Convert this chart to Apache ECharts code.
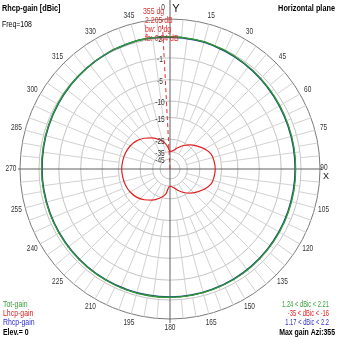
<!DOCTYPE html>
<html><head><meta charset="utf-8">
<script src="https://cdn.jsdelivr.net/npm/echarts@6/dist/echarts.min.js"></script>
<style>html,body{margin:0;padding:0;background:#fff}#c{width:339px;height:339px}</style>
</head><body><div id="c"></div>
<script>
// ---- data (dB values) ----
const azimuths = [0,10,20,30,40,50,60,70,80,90,100,110,120,130,140,150,160,170,180,190,200,210,220,230,240,250,260,270,280,290,300,310,320,330,340,350];
const totGain  = [2.19,2.12,2.00,1.85,1.68,1.52,1.40,1.31,1.26,1.24,1.25,1.28,1.33,1.39,1.45,1.51,1.56,1.60,1.63,1.64,1.64,1.63,1.62,1.61,1.60,1.60,1.61,1.63,1.67,1.73,1.81,1.90,1.99,2.08,2.15,2.21];
const rhcpGain = [2.16,2.08,1.95,1.79,1.62,1.46,1.33,1.24,1.19,1.17,1.18,1.21,1.26,1.32,1.39,1.45,1.50,1.55,1.58,1.59,1.59,1.58,1.57,1.56,1.55,1.55,1.56,1.58,1.62,1.69,1.77,1.87,1.97,2.06,2.14,2.20];
const lhcpGain = [-35,-33.5,-30.1,-26.7,-24,-21.8,-19.6,-18.0,-17.6,-17.4,-17.6,-18.0,-19.6,-21.8,-24,-26.7,-30.1,-33.5,-35,-27.7,-24.2,-21.6,-19.6,-18.0,-17.1,-16.6,-16.35,-16.2,-16.35,-16.6,-17.1,-18.0,-19.6,-21.6,-24.2,-27.7];
const ringLabels = [2,-1,-5,-10,-15,-25,-35,-45];
const angleTicks = [15,30,45,60,75,105,120,135,150,165,180,195,210,225,240,255,270,285,300,315,330,345];
const maxAzi = 355;

// ARRL-like log radial scale
const A = 0.0548;
const OUTER_DB = 4.47;
const v = db => Math.exp(A * db);
const vmax = v(OUTER_DB);

function closeLoop(vals){
  const d = azimuths.map((a,i)=>[v(vals[i]), a]);
  d.push([v(vals[0]), 360]);
  return d;
}

// spokes (grid decoration)
const spokes = [];
for (let a = 15; a < 360; a += 15) { if (a % 90) spokes.push([a, -35, OUTER_DB]); }
for (let a = 5; a < 360; a += 5) { if (a % 15) spokes.push([a, 2, OUTER_DB]); }
for (let a = 7.5; a < 360; a += 15) { spokes.push([a, -15, 2]); }

const FONT = "'Liberation Sans',Arial,sans-serif";
const SX = 0.77;
function T(text, x, y, color, size, bold, align, sx){
  return {type:'text', x:x, y:y, scaleX: sx || SX, silent:true, z:10,
    style:{text:text, fill:color, font:(bold?'bold ':'')+size+'px '+FONT, align:align||'left', verticalAlign:'middle'}};
}

const chart = echarts.init(document.getElementById('c'), null, {renderer:'canvas'});
const option = {
  animation:false,
  backgroundColor:'#fff',
  polar:{center:[170,169], radius:150},
  angleAxis:{type:'value', min:0, max:360, interval:15, startAngle:90, clockwise:true,
    axisLine:{show:true, lineStyle:{color:'#7a7a7a', width:1}},
    axisTick:{show:false}, splitLine:{show:false}, axisLabel:{show:false}},
  radiusAxis:{type:'value', min:0, max:vmax, axisLine:{show:false}, axisTick:{show:false},
    axisLabel:{show:false}, splitLine:{show:false}},
  series:[
    {type:'custom', coordinateSystem:'polar', data: ringLabels.map(d=>[d]), silent:true, z:1,
      renderItem:(p, api)=>{
        const c = api.coord([0,0]); const q = api.coord([v(api.value(0)), 0]);
        return {type:'circle', shape:{cx:c[0], cy:c[1], r:Math.abs(c[1]-q[1])},
          style:{fill:null, stroke:'#c4c4c4', lineWidth:1}};
      }},
    {type:'custom', coordinateSystem:'polar', data: spokes, silent:true, z:1,
      renderItem:(p, api)=>{
        const p1 = api.coord([v(api.value(1)), api.value(0)]);
        const p2 = api.coord([v(api.value(2)), api.value(0)]);
        return {type:'line', shape:{x1:p1[0], y1:p1[1], x2:p2[0], y2:p2[1]},
          style:{stroke:'#d2d2d2', lineWidth:1}};
      }},
    // radial scale labels
    {type:'custom', coordinateSystem:'polar', data: ringLabels.map(d=>[d]), silent:true, z:5,
      renderItem:(p, api)=>{
        const d = api.value(0); const q = api.coord([v(d), 0]);
        return {type:'text', x:q[0]-10, y:q[1]+2, scaleX:SX,
          style:{text:String(d), fill:'#333', font:'8.5px '+FONT, align:'center', verticalAlign:'middle'}};
      }},
    // angle labels
    {type:'custom', coordinateSystem:'polar', data: angleTicks.map(a=>[a]), silent:true, z:5, clip:false,
      renderItem:(p, api)=>{
        const a = api.value(0); const q = api.coord([vmax*159/150, a]);
        return {type:'text', x:q[0], y:q[1], scaleX:SX,
          style:{text:String(a), fill:'#333', font:'8.5px '+FONT, align:'center', verticalAlign:'middle'}};
      }},
    {type:'line', coordinateSystem:'polar', data:[[0,357],[vmax*1.13,357]], clip:false, symbol:'none', z:3,
      lineStyle:{color:'#e03030', width:1, type:[4,3]}},
    {name:'Rhcp-gain', type:'line', coordinateSystem:'polar', data:closeLoop(rhcpGain), smooth:true, symbol:'none', z:4,
      lineStyle:{color:'#1a3f8a', width:1.6}},
    {name:'Tot-gain', type:'line', coordinateSystem:'polar', data:closeLoop(totGain), smooth:true, symbol:'none', z:4,
      lineStyle:{color:'#2f9a2f', width:1.3}},
    {name:'Lhcp-gain', type:'line', coordinateSystem:'polar', data:closeLoop(lhcpGain), smooth:0.4, symbol:'none', z:4,
      lineStyle:{color:'#e02020', width:1.2}}
  ],
  graphic:[
    {type:'line', shape:{x1:170,y1:0,x2:170,y2:323}, style:{stroke:'#606060', lineWidth:1}, z:2, silent:true},
    {type:'line', shape:{x1:18,y1:169,x2:322,y2:169}, style:{stroke:'#606060', lineWidth:1}, z:2, silent:true},
    T('Rhcp-gain [dBic]', 2, 8, '#000', 9.5, true),
    T('Freq=108', 2, 25, '#000', 9, false),
    T('Horizontal plane', 335, 8, '#000', 9.5, true, 'right'),
    T('0', 163, 8, '#333', 8.5, false, 'center'),
    T('Y', 176, 9, '#111', 11, false, 'center', 1),
    T('90', 324, 168, '#333', 8.5, false, 'center'),
    T('X', 326, 177, '#111', 9, false, 'center', 1),
    T(maxAzi+' dg', 143, 12, '#e03030', 9, false),
    T('2.205 dB', 145, 21, '#e03030', 9, false),
    T('bw: 0 dg', 145, 30, '#e03030', 9, false),
    T('fb: 0.04 dB', 145, 39, '#e03030', 9, false),
    T('Tot-gain', 3, 305, '#3aa03a', 9, false),
    T('Lhcp-gain', 3, 314, '#e02020', 9, false),
    T('Rhcp-gain', 3, 323, '#3030d0', 9, false),
    T('Elev.= 0', 3, 333, '#000', 9, true),
    T('1.24 < dBic < 2.21', 329, 305, '#3aa03a', 8.5, false, 'right', 0.68),
    T('-35 < dBic < -16', 329, 314, '#e02020', 8.5, false, 'right', 0.68),
    T('1.17 < dBic < 2.2', 329, 323, '#3030d0', 8.5, false, 'right', 0.68),
    T('Max gain Azi:'+maxAzi, 335, 333, '#000', 9, true, 'right')
  ]
};
chart.setOption(option);
</script></body></html>
